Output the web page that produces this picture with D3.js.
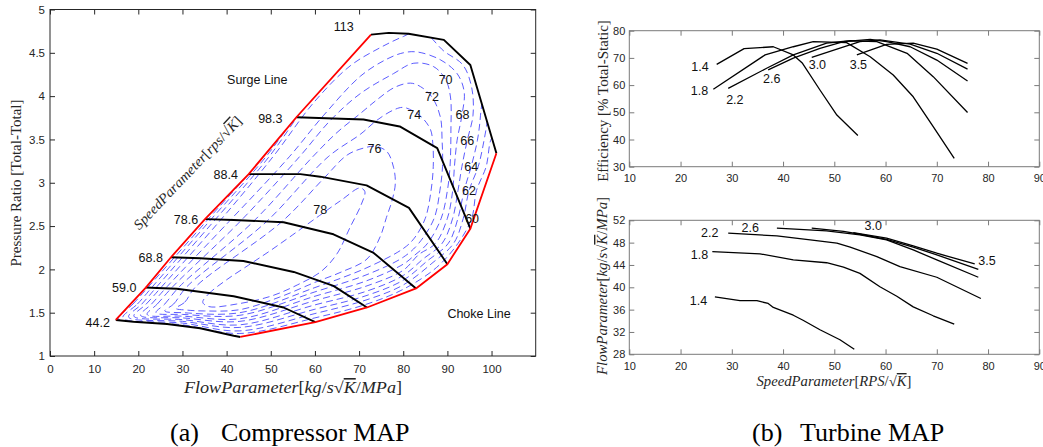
<!DOCTYPE html>
<html><head><meta charset="utf-8">
<script src="https://cdn.jsdelivr.net/npm/d3@7"></script>
<style>body{margin:0;background:#fff}svg{display:block}</style>
</head><body><svg id="c" width="1043" height="447"></svg>
<script>
// ---------------- Compressor map data ----------------
const speedNames = ["44.2","59.0","68.8","78.6","88.4","98.3","113"];
const speed442 = [[14.9,1.416],[18.9,1.396],[26.5,1.37],[34.0,1.32],[41.6,1.234],[43.1,1.22]];
const speed590 = [[21.7,1.79],[24.2,1.785],[28.7,1.777],[41.6,1.69],[52.9,1.56],[60.1,1.39]];
const speed688 = [[27.4,2.14],[34.0,2.128],[43.8,2.097],[55.2,1.97],[64.2,1.81],[71.8,1.56]];
const speed786 = [[35.1,2.58],[41.6,2.57],[52.9,2.544],[64.2,2.405],[73.3,2.19],[82.9,1.78]];
const speed884 = [[45.0,3.10],[56.7,3.10],[61.2,3.07],[71.7,2.97],[81.3,2.71],[90.0,2.06]];
const speed983 = [[55.8,3.756],[71.0,3.73],[79.2,3.65],[87.7,3.40],[95.2,2.47]];
const speed113 = [[72.7,4.71],[76.7,4.73],[81.2,4.72],[89.2,4.65],[95.2,4.36],[101.1,3.34]];
const surgeLine = [[14.9,1.416],[21.7,1.79],[27.4,2.14],[35.1,2.58],[45.0,3.10],[55.8,3.756],[72.7,4.71]];
const chokeLine = [[101.1,3.34],[95.2,2.47],[90.0,2.06],[82.9,1.78],[71.8,1.56],[60.1,1.39],[43.1,1.22]];

const effLevels = [60,62,64,66,68,70,72,74,76,78];
const eff60 = [[15.5,1.43],[18.8,1.6],[22.3,1.8],[35.3,2.55],[48.3,3.3],[60,4.1],[75,4.95],[92,5.1],[103,4.3],[101,3.6],[99.8,3.49],[98.8,3.19],[96.6,2.91],[95.5,2.59],[92.4,2.3],[87.5,2.02],[80,1.77],[71.8,1.60],[60,1.44],[43,1.26],[30,1.36]];
const eff62 = [[16.5,1.44],[19.8,1.6],[23.2,1.8],[36.0,2.55],[48.9,3.3],[62,4.2],[76,4.95],[92,5.05],[100.5,4.3],[99.3,3.8],[98.3,3.49],[97,3.19],[94.9,2.91],[93.6,2.59],[91.4,2.3],[86.5,2.07],[80,1.82],[71.8,1.65],[60,1.49],[43,1.29],[30,1.38]];
const eff64 = [[17.8,1.45],[20.8,1.6],[24.2,1.8],[37.0,2.55],[49.6,3.3],[63,4.25],[76,4.9],[90,4.95],[97.8,4.2],[97.5,3.78],[96.8,3.49],[95.4,3.19],[93.8,2.91],[92.4,2.59],[90.2,2.3],[85.5,2.1],[80,1.875],[71.8,1.70],[60,1.54],[43,1.33],[30,1.40]];
const eff66 = [[19,1.46],[21.8,1.6],[25.3,1.8],[38.3,2.55],[50.5,3.3],[59.8,3.93],[68,4.35],[74.8,4.56],[80.1,4.69],[84,4.76],[89.2,4.52],[93.5,4.36],[95.5,4.1],[95.8,3.78],[94.5,3.49],[93.3,3.19],[92.4,2.91],[91.2,2.59],[88.8,2.3],[84.5,2.12],[80,1.93],[71.8,1.75],[60,1.59],[43,1.36],[30,1.42]];
const eff68 = [[20.5,1.47],[23,1.6],[26.5,1.8],[40.5,2.55],[54.2,3.3],[62,3.78],[70.3,4.23],[76,4.42],[80,4.5],[83.1,4.51],[88.4,4.42],[92.2,4.26],[93.8,4.05],[93.3,3.78],[92.2,3.49],[91.6,3.19],[91.2,2.91],[90,2.59],[87.3,2.3],[83.5,2.17],[80,1.99],[71.8,1.81],[60,1.64],[43,1.40],[30,1.44]];
const eff70 = [[22,1.48],[24.3,1.6],[27.8,1.8],[43,2.55],[56.5,3.3],[63.5,3.72],[70.3,4.03],[77.8,4.26],[82.4,4.38],[86.9,4.34],[89.6,4.19],[90.7,3.99],[90.8,3.61],[90.6,3.19],[90,2.91],[88.6,2.59],[85.5,2.3],[82.5,2.16],[80,2.06],[71.8,1.87],[60,1.69],[43,1.43],[30,1.46]];
const eff72 = [[24,1.5],[26,1.6],[29.3,1.8],[46,2.55],[59.5,3.3],[65,3.58],[70.3,3.8],[74.1,3.96],[78,4.1],[81.6,4.15],[83.9,4.11],[86.5,3.99],[88.4,3.76],[88.8,3.49],[88.9,3.19],[88.3,2.91],[87,2.59],[83.5,2.3],[80,2.14],[71.8,1.94],[60,1.74],[43,1.47],[30,1.48]];
const eff74 = [[26,1.52],[28,1.6],[31,1.8],[49,2.55],[63,3.3],[70.3,3.56],[74,3.72],[77.8,3.84],[80,3.87],[82.5,3.82],[84.5,3.74],[86.2,3.61],[86.7,3.45],[86.8,3.19],[86.3,2.91],[85,2.59],[82.5,2.36],[80,2.24],[71.8,2.02],[60,1.79],[43,1.50],[30,1.50]];
const eff76 = [[28.5,1.55],[30.5,1.62],[33,1.8],[52.5,2.55],[62,3.05],[67.3,3.32],[71,3.40],[73.7,3.42],[76.3,3.36],[77.8,3.18],[78.2,2.99],[77.5,2.80],[76.2,2.6],[74.8,2.38],[71.8,2.12],[66,1.97],[60,1.85],[52,1.68],[43,1.535],[35,1.52],[31,1.53]];
const eff78 = [[34.6,1.62],[36,1.72],[40,1.88],[45,2.05],[50,2.22],[55,2.4],[61,2.62],[66,2.8],[70.2,2.94],[71.3,2.9],[70.5,2.75],[68,2.49],[65,2.18],[61.5,1.98],[56,1.82],[50,1.69],[42.3,1.6],[36,1.57]];

// ---------------- Turbine map data ----------------
const prNames = ["1.4","1.8","2.2","2.6","3.0","3.5"];
const effPR14 = [[27.05,67.6],[32.4,73.4],[38.1,74.1],[42.0,71.1],[43.8,68.0],[47.2,58.2],[50.5,49.0],[54.6,41.5]];
const effPR18 = [[26.4,58.5],[36.5,71.1],[42.0,74.1],[45.9,76.0],[52.4,75.6],[57.0,70.4],[61.5,63.7],[65.4,55.7],[69.3,44.7],[73.4,33.1]];
const effPR22 = [[29.3,58.8],[36.8,66.2],[42.0,71.1],[48.5,75.4],[53.1,76.3],[58.3,76.0],[64.2,71.7],[69.3,63.1],[76.0,49.9]];
const effPR26 = [[37.1,65.6],[42.0,69.9],[47.2,73.5],[51.8,76.0],[57.0,76.8],[60.2,76.0],[64.8,74.1],[70.0,69.2],[76.0,61.5]];
const effPR30 = [[45.6,70.2],[50.5,73.2],[55.0,76.0],[58.9,76.6],[64.8,75.1],[70.0,71.7],[76.0,65.9]];
const effPR35 = [[54.4,71.1],[60.2,75.0],[65.4,75.4],[70.0,73.2],[76.0,68.0]];
const flowPR14 = [[26.7,38.3],[31.6,37.6],[34.9,37.6],[37.1,37.1],[38.1,36.4],[42.0,35.0],[43.9,34.1],[47.2,32.4],[51.1,30.6],[53.9,28.9]];
const flowPR18 = [[26.2,46.4],[35.5,46.0],[42.0,44.9],[48.5,44.4],[51.8,43.6],[55.0,42.5],[58.9,40.1],[62.2,38.4],[65.4,36.5],[69.3,34.9],[73.4,33.4]];
const flowPR22 = [[29.3,49.7],[38.8,49.2],[45.3,48.5],[50.5,47.9],[53.1,47.2],[58.3,45.5],[62.8,43.7],[70.0,41.8],[78.6,38.0]];
const flowPR26 = [[38.8,50.6],[48.5,50.1],[55.0,49.4],[60.2,48.5],[65.4,46.7],[70.0,44.9],[78.1,41.8]];
const flowPR30 = [[45.6,50.6],[51.8,50.0],[55.0,49.5],[60.2,48.6],[65.4,47.2],[70.0,45.8],[78.1,43.2]];
const flowPR35 = [[53.7,49.8],[60.2,48.8],[65.4,47.4],[70.0,46.1],[77.4,44.2]];

// tick values
const xTicksL = [0,10,20,30,40,50,60,70,80,90,100];
const yTicksL = [1,1.5,2,2.5,3,3.5,4,4.5,5];
const xTicksR = [10,20,30,40,50,60,70,80,90];
const yTicksRT = [30,40,50,60,70,80];
const yTicksRB = [28,32,36,40,44,48,52];

// ---------------- layout (annotation positions, data units) ----------------
const speedLabelPos = [[10.8,1.385],[16.8,1.79],[22.8,2.14],[30.8,2.58],[39.8,3.10],[49.9,3.74],[66.5,4.80]];
const effLabelPos = [[95.6,2.59],[94.9,2.91],[95.4,3.19],[94.5,3.49],[93.4,3.79],[89.6,4.19],[86.5,3.99],[82.5,3.79],[73.5,3.39],[61.2,2.69]];
const effPRLabelPos = [[23.8,66.8],[23.7,57.9],[30.6,54.8],[37.8,62.5],[46.7,67.6],[54.7,67.6]];
const flowPRLabelPos = [[23.5,37.7],[23.7,45.9],[25.7,49.8],[33.6,50.7],[57.6,51.0],[79.8,44.8]];

const svg = d3.select("#c");
const INK = "#262626", SANS = "Liberation Sans, Arial, sans-serif", SERIF = "Liberation Serif, Times New Roman, serif";

const xL = d3.scaleLinear().domain([0,110]).range([50,535.7]);
const yL = d3.scaleLinear().domain([1,5]).range([356,9.5]);
const xR = d3.scaleLinear().domain([10,90]).range([629.3,1039.3]);
const yRT = d3.scaleLinear().domain([30,80]).range([166.7,30.7]);
const yRB = d3.scaleLinear().domain([28,52]).range([354.3,220.3]);

function frame(x, y, xt, yt, o) {
  const g = svg.append("g");
  const [x0,x1] = x.range(), [y0,y1] = y.range();
  const fmt = d => String(d);
  const ax = [
    g.append("g").attr("transform",`translate(0,${y0})`).call(d3.axisBottom(x).tickValues(xt).tickSizeInner(-5).tickSizeOuter(0).tickPadding(o.xpad).tickFormat(fmt)),
    g.append("g").attr("transform",`translate(0,${y1})`).call(d3.axisTop(x).tickValues(xt).tickSizeInner(-5).tickSizeOuter(0).tickFormat("")),
    g.append("g").attr("transform",`translate(${x0},0)`).call(d3.axisLeft(y).tickValues(yt).tickSizeInner(-5).tickSizeOuter(0).tickPadding(o.ypad).tickFormat(fmt)),
    g.append("g").attr("transform",`translate(${x1},0)`).call(d3.axisRight(y).tickValues(yt).tickSizeInner(-5).tickSizeOuter(0).tickFormat(""))
  ];
  ax.forEach(a => a.attr("font-family", SANS).attr("font-size", o.fs));
  g.selectAll(".domain").remove();
  g.selectAll(".tick line").attr("stroke", o.box);
  g.selectAll(".tick text").attr("fill", INK);
  g.append("rect").attr("x",x0).attr("y",y1).attr("width",x1-x0).attr("height",y0-y1)
    .attr("fill","none").attr("stroke",o.box).attr("stroke-width",1);
}

function mathText(x, y, rot, parts, fs, len) {
  const t = svg.append("text").attr("transform",`translate(${x},${y}) rotate(${rot})`)
    .attr("text-anchor","middle").attr("font-family",SERIF).attr("font-size",fs).attr("fill",INK);
  parts.forEach(([s,it,ov]) => {
    const ts = t.append("tspan").text(s).attr("font-style", it ? "italic" : "normal");
    if (ov) ts.attr("text-decoration","overline");
  });
  if (len) t.attr("textLength",len).attr("lengthAdjust","spacingAndGlyphs");
  return t;
}

// ================= LEFT: compressor map =================
frame(xL, yL, xTicksL, yTicksL, {xpad:9, ypad:5, fs:11.5, box:INK});

const lineL = d3.line().x(d => xL(d[0])).y(d => yL(d[1]));
const smoothL = d3.line().x(d => xL(d[0])).y(d => yL(d[1])).curve(d3.curveCatmullRomClosed.alpha(0.5));

// clip region = map boundary
const boundary = surgeLine.concat(speed113.slice(1), chokeLine.slice(1), speed442.slice(1,-1).reverse());
svg.append("clipPath").attr("id","mapclip").append("path").attr("d", lineL(boundary) + "Z");

const effSeries = [eff60,eff62,eff64,eff66,eff68,eff70,eff72,eff74,eff76,eff78];
svg.append("g").attr("clip-path","url(#mapclip)").selectAll("path").data(effSeries).join("path")
  .attr("d", smoothL).attr("fill","none").attr("stroke","#4b4bff").attr("stroke-width",0.9)
  .attr("stroke-dasharray","7,4");

const speedSeries = [speed442,speed590,speed688,speed786,speed884,speed983,speed113];
svg.append("g").selectAll("path").data(speedSeries).join("path")
  .attr("d", lineL).attr("fill","none").attr("stroke","#000").attr("stroke-width",1.9).attr("stroke-linejoin","round");

svg.append("g").selectAll("path").data([surgeLine, chokeLine]).join("path")
  .attr("d", lineL).attr("fill","none").attr("stroke","#ff0000").attr("stroke-width",1.8).attr("stroke-linejoin","round");

svg.append("g").selectAll("text").data(speedNames).join("text")
  .attr("x",(d,i)=>xL(speedLabelPos[i][0])).attr("y",(d,i)=>yL(speedLabelPos[i][1]))
  .attr("dy","0.36em").attr("text-anchor","middle").attr("font-family",SANS).attr("font-size",12.5).attr("fill","#111").text(d=>d);

svg.append("g").selectAll("text").data(effLevels).join("text")
  .attr("x",(d,i)=>xL(effLabelPos[i][0])).attr("y",(d,i)=>yL(effLabelPos[i][1]))
  .attr("dy","0.36em").attr("text-anchor","middle").attr("font-family",SANS).attr("font-size",12.5).attr("fill","#111").text(d=>d);

svg.append("text").attr("x",xL(40.1)).attr("y",yL(4.19)).attr("dy","0.36em").attr("font-family",SANS)
  .attr("font-size",12.5).attr("fill","#111").text("Surge Line");
svg.append("text").attr("x",xL(90.0)).attr("y",yL(1.485)).attr("dy","0.36em").attr("font-family",SANS)
  .attr("font-size",12.5).attr("fill","#111").text("Choke Line");

// axis titles left
svg.append("text").attr("transform","translate(16,183) rotate(-90)").attr("dy","0.36em")
  .attr("text-anchor","middle").attr("font-family",SERIF).attr("font-size",15).attr("fill",INK)
  .text("Pressure Ratio [Total-Total]");
mathText(293, 393, 0, [["FlowParameter",1],["[",0],["kg",1],["/",0],["s",1],["√",0],["K",1,1],["/",0],["MPa",1],["]",0]], 16, 218);
mathText(191, 176, -46.5, [["SpeedParameter",1],["[",0],["rps",1],["/",0],["√",0],["K",1,1],["]",0]], 14, 150);

// ================= RIGHT TOP: efficiency =================
frame(xR, yRT, xTicksR, yTicksRT, {xpad:8, ypad:4, fs:11, box:"#7a7a7a"});
const lineRT = d3.line().x(d => xR(d[0])).y(d => yRT(d[1]));
svg.append("g").selectAll("path").data([effPR14,effPR18,effPR22,effPR26,effPR30,effPR35]).join("path")
  .attr("d", lineRT).attr("fill","none").attr("stroke","#000").attr("stroke-width",1.3).attr("stroke-linejoin","round");
svg.append("g").selectAll("text").data(prNames).join("text")
  .attr("x",(d,i)=>xR(effPRLabelPos[i][0])).attr("y",(d,i)=>yRT(effPRLabelPos[i][1]))
  .attr("dy","0.36em").attr("text-anchor","middle").attr("font-family",SANS).attr("font-size",12.5).attr("fill","#111").text(d=>d);
svg.append("text").attr("transform","translate(603,101) rotate(-90)").attr("dy","0.36em")
  .attr("text-anchor","middle").attr("font-family",SERIF).attr("font-size",15).attr("fill",INK)
  .text("Efficiency [% Total-Static]");

// ================= RIGHT BOTTOM: flow =================
frame(xR, yRB, xTicksR, yTicksRB, {xpad:8, ypad:4, fs:11, box:"#7a7a7a"});
const lineRB = d3.line().x(d => xR(d[0])).y(d => yRB(d[1]));
svg.append("g").selectAll("path").data([flowPR14,flowPR18,flowPR22,flowPR26,flowPR30,flowPR35]).join("path")
  .attr("d", lineRB).attr("fill","none").attr("stroke","#000").attr("stroke-width",1.3).attr("stroke-linejoin","round");
svg.append("g").selectAll("text").data(prNames).join("text")
  .attr("x",(d,i)=>xR(flowPRLabelPos[i][0])).attr("y",(d,i)=>yRB(flowPRLabelPos[i][1]))
  .attr("dy","0.36em").attr("text-anchor","middle").attr("font-family",SANS).attr("font-size",12.5).attr("fill","#111").text(d=>d);
mathText(607, 286, -90, [["FlowParameter",1],["[",0],["kg",1],["/",0],["s",1],["√",0],["K",1,1],["/",0],["MPa",1],["]",0]], 14, 178);
mathText(834, 386, 0, [["SpeedParameter",1],["[",0],["RPS",1],["/",0],["√",0],["K",1,1],["]",0]], 14, 155);

// ================= captions =================
const cap = [["(a)",170],["Compressor MAP",221],["(b)",752],["Turbine MAP",800]];
svg.append("g").selectAll("text").data(cap).join("text")
  .attr("x",d=>d[1]).attr("y",441).attr("font-family",SERIF).attr("font-size",26).attr("fill","#000").text(d=>d[0]);
</script></body></html>
